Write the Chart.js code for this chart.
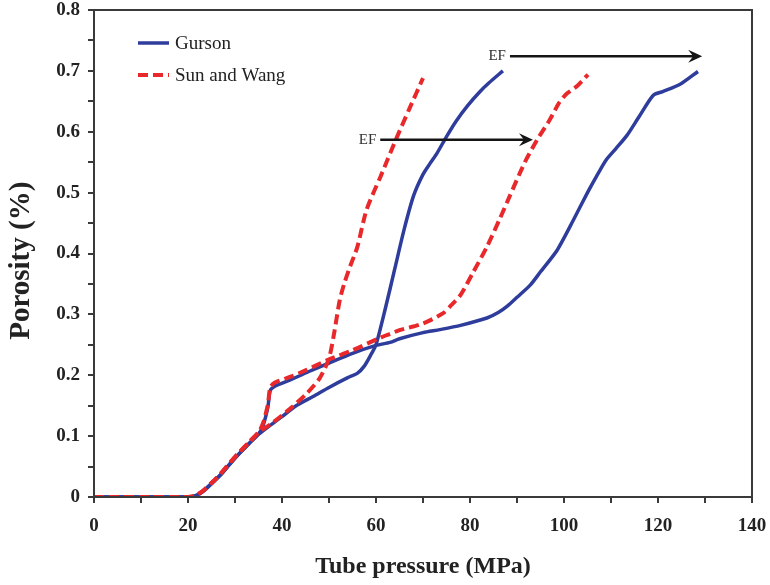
<!DOCTYPE html>
<html>
<head>
<meta charset="utf-8">
<script src="https://cdn.jsdelivr.net/npm/chart.js@4.4.1/dist/chart.umd.min.js"></script>
<style>
  html, body { margin: 0; padding: 0; background: #ffffff; }
  #wrap { width: 770px; height: 585px; }
</style>
</head>
<body>
<div id="wrap"><canvas id="porosityChart" width="770" height="585"></canvas></div>
<script>
  // Gurson, reaching EF at lower pressure
  const gursonAX = [0, 10, 20, 21.5, 23, 25, 27, 29, 31, 33, 35, 37, 40, 43, 46.6, 50, 54, 56, 57.5, 59, 60, 62, 64, 66, 68, 70, 71.5, 73, 75, 77, 79.5, 82, 84, 87];
  const gursonAY = [0, 0, 0, 0.002, 0.008, 0.022, 0.037, 0.055, 0.072, 0.088, 0.103, 0.115, 0.132, 0.15, 0.165, 0.18, 0.196, 0.203, 0.215, 0.235, 0.25, 0.31, 0.375, 0.44, 0.495, 0.53, 0.548, 0.565, 0.592, 0.617, 0.643, 0.665, 0.68, 0.70];

  // Gurson, reaching EF at higher pressure
  const gursonBX = [0, 10, 20, 21.5, 23, 25, 27, 29, 31, 33, 35, 36, 37, 37.5, 38.5, 42, 46, 50, 55, 60, 63, 65, 70, 73.6, 78, 83.6, 86, 88, 90, 92.8, 95, 98.5, 102, 105, 107, 109, 111, 113.4, 116, 119, 121, 124.7, 128.5];
  const gursonBY = [0, 0, 0, 0.002, 0.008, 0.022, 0.037, 0.055, 0.072, 0.088, 0.103, 0.118, 0.148, 0.175, 0.182, 0.193, 0.207, 0.22, 0.236, 0.249, 0.254, 0.26, 0.27, 0.275, 0.282, 0.294, 0.303, 0.314, 0.328, 0.348, 0.37, 0.405, 0.455, 0.5, 0.528, 0.554, 0.572, 0.594, 0.625, 0.66, 0.666, 0.678, 0.699];

  // Sun and Wang, reaching EF at lower pressure
  const sunWangAX = [0, 10, 20, 21.5, 23, 25, 27, 29, 31, 33, 35, 38, 41.7, 45, 48, 50, 51, 52.3, 53.3, 54.5, 56, 58, 61, 64.5, 67, 70];
  const sunWangAY = [0, 0, 0, 0.002, 0.009, 0.023, 0.039, 0.057, 0.074, 0.09, 0.106, 0.122, 0.145, 0.168, 0.195, 0.228, 0.265, 0.324, 0.352, 0.379, 0.41, 0.472, 0.527, 0.592, 0.636, 0.688];

  // Sun and Wang, reaching EF at higher pressure
  const sunWangBX = [0, 10, 20, 21.5, 23, 25, 27, 29, 31, 33, 35, 36, 37, 37.5, 38.5, 42, 45, 50, 55, 61, 63, 65, 70, 74.3, 76, 78, 80.6, 83.6, 86.4, 88.5, 90.6, 92, 94.3, 97, 99, 100.5, 102.8, 105.1];
  const sunWangBY = [0, 0, 0, 0.002, 0.009, 0.023, 0.039, 0.057, 0.074, 0.09, 0.106, 0.122, 0.152, 0.18, 0.188, 0.198, 0.208, 0.226, 0.241, 0.262, 0.268, 0.274, 0.285, 0.302, 0.315, 0.332, 0.368, 0.411, 0.458, 0.495, 0.532, 0.555, 0.587, 0.62, 0.648, 0.662, 0.675, 0.694];

  const legendLabels = ['Gurson', 'Sun and Wang'];

  // EF arrows: [start pressure, end pressure, porosity level]
  const efArrowStart = [60.9, 88.5];
  const efArrowEnd = [93.4, 129.4];
  const efArrowLevel = [0.587, 0.724];
  const efLabel = 'EF';

  const blue = '#2e3d9c';
  const red = '#e8282a';
  const axisColor = '#3a3a3a';
  const serif = '"Liberation Serif", "Times New Roman", serif';

  function toPoints(xs, ys) {
    return xs.map(function (x, i) { return { x: x, y: ys[i] }; });
  }

  const frameBox = {
    id: 'frameBox',
    afterDraw(chart) {
      const { ctx, chartArea } = chart;
      ctx.save();
      ctx.strokeStyle = axisColor;
      ctx.lineWidth = 2;
      ctx.strokeRect(chartArea.left, chartArea.top, chartArea.right - chartArea.left, chartArea.bottom - chartArea.top);
      ctx.restore();
    }
  };

  const efArrows = {
    id: 'efArrows',
    afterDatasetsDraw(chart) {
      const { ctx } = chart;
      const xScale = chart.scales.x;
      const yScale = chart.scales.y;
      ctx.save();
      efArrowStart.forEach(function (start, i) {
        const x0 = xScale.getPixelForValue(start);
        const x1 = xScale.getPixelForValue(efArrowEnd[i]);
        const y = yScale.getPixelForValue(efArrowLevel[i]);
        ctx.strokeStyle = '#151515';
        ctx.lineWidth = 2.5;
        ctx.beginPath();
        ctx.moveTo(x0, y);
        ctx.lineTo(x1 - 8, y);
        ctx.stroke();
        ctx.fillStyle = '#151515';
        ctx.beginPath();
        ctx.moveTo(x1, y);
        ctx.lineTo(x1 - 14, y - 6.5);
        ctx.lineTo(x1 - 9, y);
        ctx.lineTo(x1 - 14, y + 6.5);
        ctx.closePath();
        ctx.fill();
        ctx.fillStyle = '#333333';
        ctx.font = '15px ' + serif;
        ctx.textAlign = 'right';
        ctx.textBaseline = 'middle';
        ctx.fillText(efLabel, x0 - 4, y);
      });
      ctx.restore();
    }
  };

  const insideLegend = {
    id: 'insideLegend',
    afterDraw(chart) {
      const { ctx, chartArea } = chart;
      const sources = [2, 0];
      ctx.save();
      legendLabels.forEach(function (label, i) {
        const ds = chart.data.datasets[sources[i]];
        const y = chartArea.top + 33 + i * 32;
        const x = chartArea.left + 44;
        ctx.strokeStyle = ds.borderColor;
        ctx.lineWidth = ds.borderWidth;
        ctx.setLineDash(ds.borderDash || []);
        ctx.beginPath();
        ctx.moveTo(x, y);
        ctx.lineTo(x + 31, y);
        ctx.stroke();
        ctx.setLineDash([]);
        ctx.fillStyle = '#222222';
        ctx.font = '19px ' + serif;
        ctx.textAlign = 'left';
        ctx.textBaseline = 'middle';
        ctx.fillText(label, x + 37, y + 1);
      });
      ctx.restore();
    }
  };

  const sunWangStyle = {
    borderColor: red,
    borderWidth: 4,
    borderDash: [10, 5],
    pointRadius: 0,
    tension: 0.25,
    fill: false
  };

  const gursonStyle = {
    borderColor: blue,
    borderWidth: 3.5,
    pointRadius: 0,
    tension: 0.25,
    fill: false
  };

  new Chart(document.getElementById('porosityChart').getContext('2d'), {
    type: 'line',
    plugins: [frameBox, efArrows, insideLegend],
    data: {
      datasets: [
        Object.assign({ label: 'Sun and Wang', data: toPoints(sunWangAX, sunWangAY) }, sunWangStyle),
        Object.assign({ label: 'Sun and Wang', data: toPoints(sunWangBX, sunWangBY) }, sunWangStyle),
        Object.assign({ label: 'Gurson', data: toPoints(gursonAX, gursonAY) }, gursonStyle),
        Object.assign({ label: 'Gurson', data: toPoints(gursonBX, gursonBY) }, gursonStyle)
      ]
    },
    options: {
      responsive: false,
      animation: false,
      layout: { padding: { left: 0, top: 10, right: 18, bottom: 0 } },
      plugins: {
        legend: { display: false },
        tooltip: { enabled: false }
      },
      scales: {
        x: {
          type: 'linear',
          min: 0,
          max: 140,
          afterFit(scale) {
            scale.height = 88;
            scale.paddingLeft = 0;
            scale.paddingRight = 0;
          },
          grid: { drawOnChartArea: false, drawTicks: true, tickLength: 6, color: axisColor, lineWidth: 2 },
          border: { display: true, color: axisColor, width: 2 },
          ticks: {
            stepSize: 10,
            padding: 14,
            color: '#222222',
            font: { family: serif, size: 19, weight: 'bold', lineHeight: 1 },
            maxRotation: 0,
            autoSkip: false,
            callback(value) { return value % 20 === 0 ? String(value) : ''; }
          },
          title: {
            display: true,
            text: 'Tube pressure (MPa)',
            color: '#222222',
            font: { family: serif, size: 24, weight: 'bold' },
            padding: { top: 0, bottom: 4 }
          }
        },
        y: {
          min: 0,
          max: 0.8,
          afterFit(scale) {
            scale.width = 94;
            scale.paddingTop = 0;
            scale.paddingBottom = 0;
          },
          grid: { drawOnChartArea: false, drawTicks: true, tickLength: 6, color: axisColor, lineWidth: 2 },
          border: { display: true, color: axisColor, width: 2 },
          ticks: {
            stepSize: 0.05,
            padding: 8,
            color: '#222222',
            font: { family: serif, size: 19, weight: 'bold', lineHeight: 1 },
            autoSkip: false,
            callback(value) {
              const tenths = Math.round(value * 10);
              if (Math.abs(value * 10 - tenths) > 1e-6) return '';
              return tenths === 0 ? '0' : (tenths / 10).toFixed(1);
            }
          },
          title: {
            display: true,
            text: 'Porosity (%)  ',
            color: '#222222',
            font: { family: serif, size: 29, weight: 'bold', lineHeight: 1.2 },
            padding: { top: 4, bottom: 0 }
          }
        }
      }
    }
  });
</script>
</body>
</html>
